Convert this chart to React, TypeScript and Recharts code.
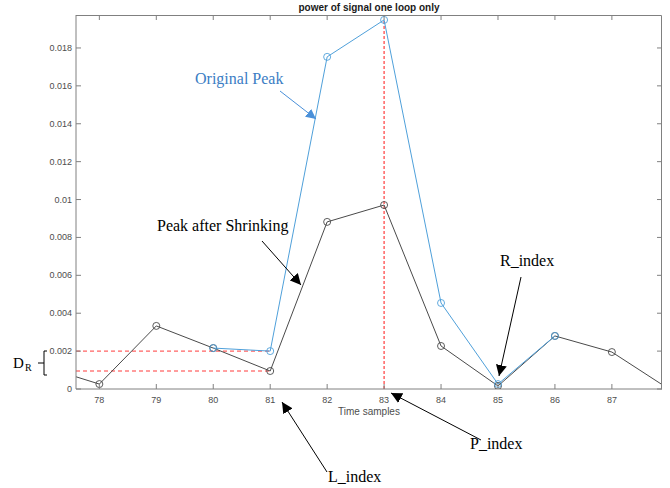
import { ComposedChart, Line, XAxis, YAxis, ReferenceLine, Label } from 'recharts'

// time sample index
const samples = [77, 78, 79, 80, 81, 82, 83, 84, 85, 86, 87, 88]
// power after shrinking (black)
const shrunkPower = [0.0012, 0.00026, 0.00333, 0.00216, 0.00095, 0.00882, 0.00971, 0.00227, 0.00016, 0.0028, 0.00195, 0]
// original peak (blue), only around the peak
const originalPower = [null, null, null, 0.00216, 0.002, 0.01753, 0.01948, 0.00454, 0.00026, 0.0028, null, null]

const xTicks = [78, 79, 80, 81, 82, 83, 84, 85, 86, 87]
const yTicks = [0, 0.002, 0.004, 0.006, 0.008, 0.01, 0.012, 0.014, 0.016, 0.018]
const yTickLabels = ['0', '0.002', '0.004', '0.006', '0.008', '0.01', '0.012', '0.014', '0.016', '0.018']

const xDomain = [77.59, 87.88]
const yDomain = [0, 0.01974]

const lIndex = 81
const pIndex = 83

const W = 670
const H = 488
const M = { top: 15, right: 8, bottom: 69, left: 16 }
const Y_AXIS_W = 60
const X_AXIS_H = 30
const plot = { left: M.left + Y_AXIS_W, top: M.top, right: W - M.right, bottom: H - M.bottom - X_AXIS_H }

const AXIS = '#808080'
const TICK_TXT = '#4d4d4d'
const SANS = 'Liberation Sans, Arial, sans-serif'
const SERIF = 'Liberation Serif, Times New Roman, serif'
const RED = '#ff3b3b'

const data = samples.map((s, i) => ({ t: s, shrunk: shrunkPower[i], original: originalPower[i] }))

const peakOrig = originalPower[samples.indexOf(pIndex)] as number
const dTop = originalPower[samples.indexOf(lIndex)] as number
const dBottom = shrunkPower[samples.indexOf(lIndex)]

// the bottom tick also drops a matching inward tick on the top edge of the box
const BottomTick = ({ x, y, payload }: any) => (
  <g>
    <line x1={x} y1={y} x2={x} y2={y - 5} stroke={AXIS} />
    <line x1={x} y1={plot.top} x2={x} y2={plot.top + 5} stroke={AXIS} />
    <text x={x} y={y + 14} textAnchor="middle" fontSize={9} fill={TICK_TXT} fontFamily={SANS}>{payload.value}</text>
  </g>
)
// same for the left ticks and the right edge
const LeftTick = ({ x, y, index }: any) => (
  <g>
    <line x1={x} y1={y} x2={x + 5} y2={y} stroke={AXIS} />
    <line x1={plot.right - 5} y1={y} x2={plot.right} y2={y} stroke={AXIS} />
    <text x={x - 4} y={y + 3} textAnchor="end" fontSize={9} fill={TICK_TXT} fontFamily={SANS}>{yTickLabels[index]}</text>
  </g>
)

export default function App() {
  return (
    <div style={{ position: 'absolute', left: 0, top: 0, width: W, height: H, background: '#fff' }}>
      <ComposedChart width={W} height={H} data={data} margin={M}>
        <XAxis dataKey="t" type="number" domain={xDomain} ticks={xTicks} allowDataOverflow
          height={X_AXIS_H} tickSize={0} tickMargin={0} tickLine={false} stroke={AXIS} tick={<BottomTick />}>
          <Label value="Time samples" position="insideBottom" offset={4} fontSize={10} fill={TICK_TXT} fontFamily={SANS} />
        </XAxis>
        <YAxis type="number" domain={yDomain} ticks={yTicks} allowDataOverflow width={Y_AXIS_W}
          tickSize={0} tickMargin={0} tickLine={false} stroke={AXIS} tick={<LeftTick />} />

        <ReferenceLine segment={[{ x: xDomain[0], y: dTop }, { x: lIndex, y: dTop }]} stroke={RED} strokeDasharray="4 3" ifOverflow="visible" />
        <ReferenceLine segment={[{ x: xDomain[0], y: dBottom }, { x: lIndex, y: dBottom }]} stroke={RED} strokeDasharray="4 3" ifOverflow="visible" />
        <ReferenceLine segment={[{ x: pIndex, y: 0 }, { x: pIndex, y: peakOrig }]} stroke={RED} strokeWidth={1.2} strokeDasharray="3 2" ifOverflow="visible" />

        <Line dataKey="shrunk" stroke="#4a4a4a" strokeWidth={1} isAnimationActive={false}
          dot={{ r: 3.5, fill: 'none', stroke: '#4a4a4a', strokeWidth: 0.9 }} />
        <Line dataKey="original" stroke="#4fa0da" strokeWidth={1} isAnimationActive={false}
          dot={{ r: 3.5, fill: 'none', stroke: '#4fa0da', strokeWidth: 0.9 }} />
      </ComposedChart>

      <svg width={W} height={H} style={{ position: 'absolute', left: 0, top: 0, pointerEvents: 'none' }}>
        <defs>
          <marker id="hBlack" viewBox="0 0 10 10" refX="10" refY="5" markerWidth="11" markerHeight="11" markerUnits="userSpaceOnUse" orient="auto">
            <path d="M0,0 L10,5 L0,10 z" fill="#000" />
          </marker>
          <marker id="hBlue" viewBox="0 0 10 10" refX="10" refY="5" markerWidth="10" markerHeight="10" markerUnits="userSpaceOnUse" orient="auto">
            <path d="M0,0 L10,5 L0,10 z" fill="#4a90d9" />
          </marker>
        </defs>
        {/* box edges (top and right) */}
        <path d={`M${plot.left},${plot.top + 0.5} L${plot.right - 0.5},${plot.top + 0.5} L${plot.right - 0.5},${plot.bottom}`}
          stroke={AXIS} strokeWidth={1} fill="none" />

        <text x={369} y={11} textAnchor="middle" fontSize={10} fontWeight="bold" fill="#1a1a1a" fontFamily={SANS}>
          power of signal one loop only
        </text>

        <text x={195} y={84} fontSize={16} fill="#3a7dc4" fontFamily={SERIF}>Original Peak</text>
        <line x1={280} y1={91} x2={316} y2={119} stroke="#4a90d9" strokeWidth={1} markerEnd="url(#hBlue)" />

        <text x={157} y={231} fontSize={16} fill="#000" fontFamily={SERIF}>Peak after Shrinking</text>
        <line x1={262} y1={241} x2={301} y2={285} stroke="#000" strokeWidth={1} markerEnd="url(#hBlack)" />

        <text x={500} y={266} fontSize={16} fill="#000" fontFamily={SERIF}>R_index</text>
        <line x1={521} y1={277} x2={499} y2={376} stroke="#000" strokeWidth={1} markerEnd="url(#hBlack)" />

        <text x={470} y={449} fontSize={16} fill="#000" fontFamily={SERIF}>P_index</text>
        <line x1={481} y1={440} x2={391} y2={393} stroke="#000" strokeWidth={1} markerEnd="url(#hBlack)" />

        <text x={328} y={482} fontSize={16} fill="#000" fontFamily={SERIF}>L_index</text>
        <line x1={327} y1={472} x2={282} y2={402} stroke="#000" strokeWidth={1} markerEnd="url(#hBlack)" />

        <text x={13} y={368} fontSize={15} fill="#000" fontFamily={SERIF}>D</text>
        <text x={25} y={371} fontSize={10} fill="#000" fontFamily={SERIF}>R</text>
        <path d="M47,351 L44,351 L44,375 L47,375 M44,363 L38,363" stroke="#000" strokeWidth={1} fill="none" />
      </svg>
    </div>
  )
}
